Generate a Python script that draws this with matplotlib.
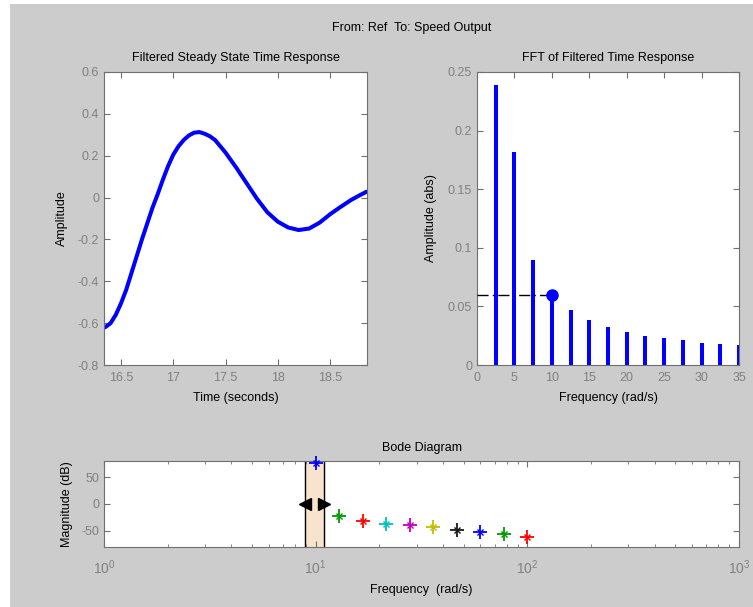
import numpy as np
import matplotlib.pyplot as plt
from matplotlib.patches import Rectangle
from matplotlib.ticker import FixedLocator, LogLocator, NullFormatter

plt.rcParams['font.family'] = ['Liberation Sans', 'DejaVu Sans']
plt.rcParams['mathtext.default'] = 'regular'

# filtered steady state time response
t = [16.347, 16.40, 16.45, 16.50, 16.55, 16.60, 16.65, 16.70, 16.75, 16.80,
     16.85, 16.90, 16.95, 17.00, 17.05, 17.10, 17.15, 17.20, 17.25, 17.30,
     17.35, 17.40, 17.50, 17.60, 17.70, 17.80, 17.90, 18.00, 18.10, 18.20,
     18.30, 18.40, 18.50, 18.60, 18.70, 18.78, 18.85]
amp = [-0.620, -0.600, -0.560, -0.505, -0.440, -0.360, -0.280, -0.200, -0.125, -0.050,
       0.015, 0.085, 0.150, 0.205, 0.245, 0.275, 0.297, 0.310, 0.313, 0.305,
       0.293, 0.275, 0.215, 0.145, 0.070, -0.005, -0.070, -0.115, -0.143, -0.155,
       -0.148, -0.120, -0.080, -0.045, -0.012, 0.010, 0.028]

# FFT of filtered response
fft_freq = [2.5, 5, 7.5, 10, 12.5, 15, 17.5, 20, 22.5, 25, 27.5, 30, 32.5, 35]
fft_amp = [0.2386, 0.1815, 0.0895, 0.060, 0.0469, 0.0384, 0.0321, 0.0281,
           0.025, 0.023, 0.021, 0.019, 0.0179, 0.0168]
sel_freq = 10
sel_amp = 0.060

# bode magnitude points
bode_w = [10, 12.9, 16.7, 21.5, 27.8, 35.9, 46.4, 59.9, 77.4, 100]
bode_db = [77, -23, -31.5, -36.5, -39, -43, -47.5, -52, -56, -60.5]
bode_colors = [(0, 0, 1), (0, 0.6, 0), (1, 0, 0), (0, 0.75, 0.75), (0.75, 0, 0.75),
               (0.75, 0.75, 0), (0.1, 0.1, 0.1), (0, 0, 1), (0, 0.6, 0), (1, 0, 0)]
band = [8.9, 11.0]

W, H = 753, 607
fig = plt.figure(figsize=(W / 100, H / 100), dpi=100, facecolor='white')
fig.patches.append(Rectangle((10 / W, 0), 1, 1 - 4 / H, transform=fig.transFigure,
                             facecolor='#cccccc', edgecolor='none', zorder=-10))

tick_gray = '#808080'
edge_gray = '#707070'


def px_axes(x0, y0, x1, y1):
    return fig.add_axes([x0 / W, 1 - y1 / H, (x1 - x0) / W, (y1 - y0) / H])


def style(ax):
    for s in ax.spines.values():
        s.set_color(edge_gray)
    ax.tick_params(direction='in', top=True, right=True, colors=edge_gray,
                   labelcolor=tick_gray, labelsize=9, length=4)
    ax.tick_params(which='minor', direction='in', top=True, right=True,
                   colors=edge_gray, length=2.5)


fig.text(412 / W, 1 - 28 / H, 'From: Ref  To: Speed Output', ha='center', va='center',
         fontsize=9)

# time response
ax1 = px_axes(104, 72, 367, 365)
ax1.plot(t, amp, color='blue', lw=2.9, solid_capstyle='round')
ax1.set_xlim(16.337, 18.854)
ax1.set_ylim(-0.8, 0.6)
ax1.set_xticks([16.5, 17, 17.5, 18, 18.5])
ax1.set_xticklabels(['16.5', '17', '17.5', '18', '18.5'])
ax1.set_yticks([0.6, 0.4, 0.2, 0, -0.2, -0.4, -0.6, -0.8])
ax1.set_yticklabels(['0.6', '0.4', '0.2', '0', '-0.2', '-0.4', '-0.6', '-0.8'])
ax1.set_title('Filtered Steady State Time Response', fontsize=9, pad=8)
ax1.set_xlabel('Time (seconds)', fontsize=9, labelpad=6)
ax1.set_ylabel('Amplitude', fontsize=9, labelpad=7)
style(ax1)
ax1.tick_params(axis='x', pad=5)

# FFT
ax2 = px_axes(477, 72, 739, 365)
ax2.vlines(fft_freq, 0, fft_amp, color='blue', lw=2.9)
ax2.plot([0, sel_freq], [sel_amp, sel_amp], color='black', lw=1,
         dashes=(8, 3, 1, 3), zorder=3)
ax2.plot([sel_freq], [sel_amp], 'o', color='blue', ms=8, zorder=4)
ax2.set_xlim(0, 35)
ax2.set_ylim(0, 0.25)
ax2.set_xticks(range(0, 36, 5))
ax2.set_yticks([0, 0.05, 0.1, 0.15, 0.2, 0.25])
ax2.set_yticklabels(['0', '0.05', '0.1', '0.15', '0.2', '0.25'])
ax2.set_title('FFT of Filtered Time Response', fontsize=9, pad=8)
ax2.set_xlabel('Frequency (rad/s)', fontsize=9, labelpad=6)
ax2.set_ylabel('Amplitude (abs)', fontsize=9, labelpad=8)
style(ax2)
ax2.tick_params(axis='x', pad=5)

# bode
ax3 = px_axes(104, 461, 739, 547)
ax3.set_xscale('log')
ax3.axvspan(band[0], band[1], color='#f8e4cc', zorder=1)
ax3.axvline(band[0], color='black', lw=1, zorder=2)
ax3.axvline(band[1], color='black', lw=1, zorder=2)
ax3.plot([band[0]], [0], marker='<', color='black', ms=8, zorder=3, clip_on=False)
ax3.plot([band[1]], [0], marker='>', color='black', ms=8, zorder=3, clip_on=False)
for w, m, c in zip(bode_w, bode_db, bode_colors):
    ax3.plot([w], [m], marker='+', color=c, ms=10, mew=1.3, zorder=4, clip_on=False)
    ax3.plot([w], [m], marker='x', color=c, ms=5, mew=1.0, zorder=4, clip_on=False)
ax3.set_xlim(1, 1000)
ax3.set_ylim(-80, 80)
ax3.set_yticks([50, 0, -50])
ax3.set_yticklabels(['50', '0', '-50'])
ax3.xaxis.set_major_locator(FixedLocator([1, 10, 100, 1000]))
ax3.xaxis.set_minor_locator(LogLocator(base=10, subs=np.arange(2, 10)))
ax3.xaxis.set_minor_formatter(NullFormatter())
ax3.set_title('Bode Diagram', fontsize=9, pad=7)
ax3.set_xlabel('Frequency  (rad/s)', fontsize=9, labelpad=5)
ax3.set_ylabel('Magnitude (dB)', fontsize=9, labelpad=6)
style(ax3)
ax3.tick_params(axis='x', which='major', pad=8, labelsize=10)

fig.savefig('out.png', dpi=100, facecolor=fig.get_facecolor())
